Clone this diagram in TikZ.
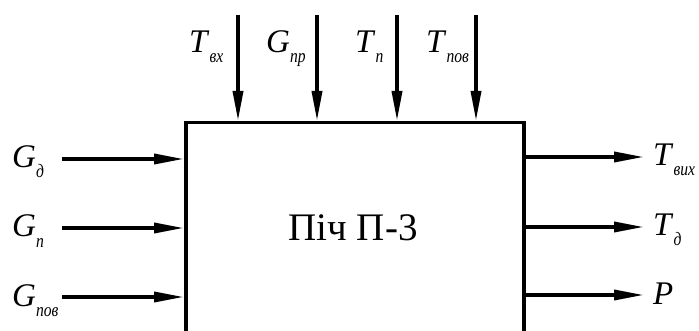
\documentclass[tikz,border=0pt]{standalone}
\usepackage{fontspec}
\usepackage{graphicx}
\setmainfont{Liberation Serif}
\newfontfamily\tnr{Liberation Serif}
\usetikzlibrary{positioning, arrows.meta}

\newcommand{\bigsym}[2]{\textit{#1}\raisebox{-10pt}{\scalebox{0.82}[1]{\fontsize{19}{19}\selectfont\textit{#2}}}}

\tikzset{
  flow/.style={line width=3.5pt, -{Triangle[length=30pt, width=10pt]}},
  lbl/.style={inner sep=0pt, anchor=base west, font=\tnr\fontsize{33}{35}\selectfont},
  pich/.style={draw, line width=3.5pt, minimum width=338pt, minimum height=260pt, anchor=north west, inner sep=0pt}
}

\begin{document}
\begin{tikzpicture}[x=1pt, y=-1pt]
  \useasboundingbox (0,0) rectangle (699,331);
  \clip (0,0) rectangle (699,331);
  % the furnace
  \node[pich] (box) at (184,121) {};
  \node[font=\tnr\fontsize{39}{41}\selectfont] (name) at (353,228) {Піч П-3};
  % inputs from above
  \foreach \i/\x/\s/\sub/\lx in {1/238/T/вх/189, 2/317/G/пр/266, 3/397/T/п/355, 4/476/T/пов/426} {
    \coordinate (top\i) at (\x,15);
    \coordinate (topin\i) at (\x,121);
    \draw[flow] (top\i) -- (topin\i);
    \node[lbl] (toplbl\i) at (\lx,53) {\bigsym{\s}{\sub}};
  }
  % inputs from the left
  \foreach \i/\y/\sub in {1/159/д, 2/228/п, 3/297/пов} {
    \coordinate (left\i) at (62,\y);
    \coordinate (leftin\i) at (184,\y);
    \draw[flow] (left\i) -- (leftin\i);
    \node[lbl] (leftlbl\i) at (12,\y+9) {\bigsym{G}{\sub}};
  }
  % outputs
  \foreach \i/\y/\s/\sub in {1/157/T/вих, 2/227/T/д, 3/295/P/} {
    \coordinate (rightout\i) at (522,\y);
    \coordinate (right\i) at (644,\y);
    \draw[flow] (rightout\i) -- (right\i);
    \node[lbl] (rightlbl\i) at (653,\y+9) {\bigsym{\s}{\sub}};
  }
\end{tikzpicture}
\end{document}
